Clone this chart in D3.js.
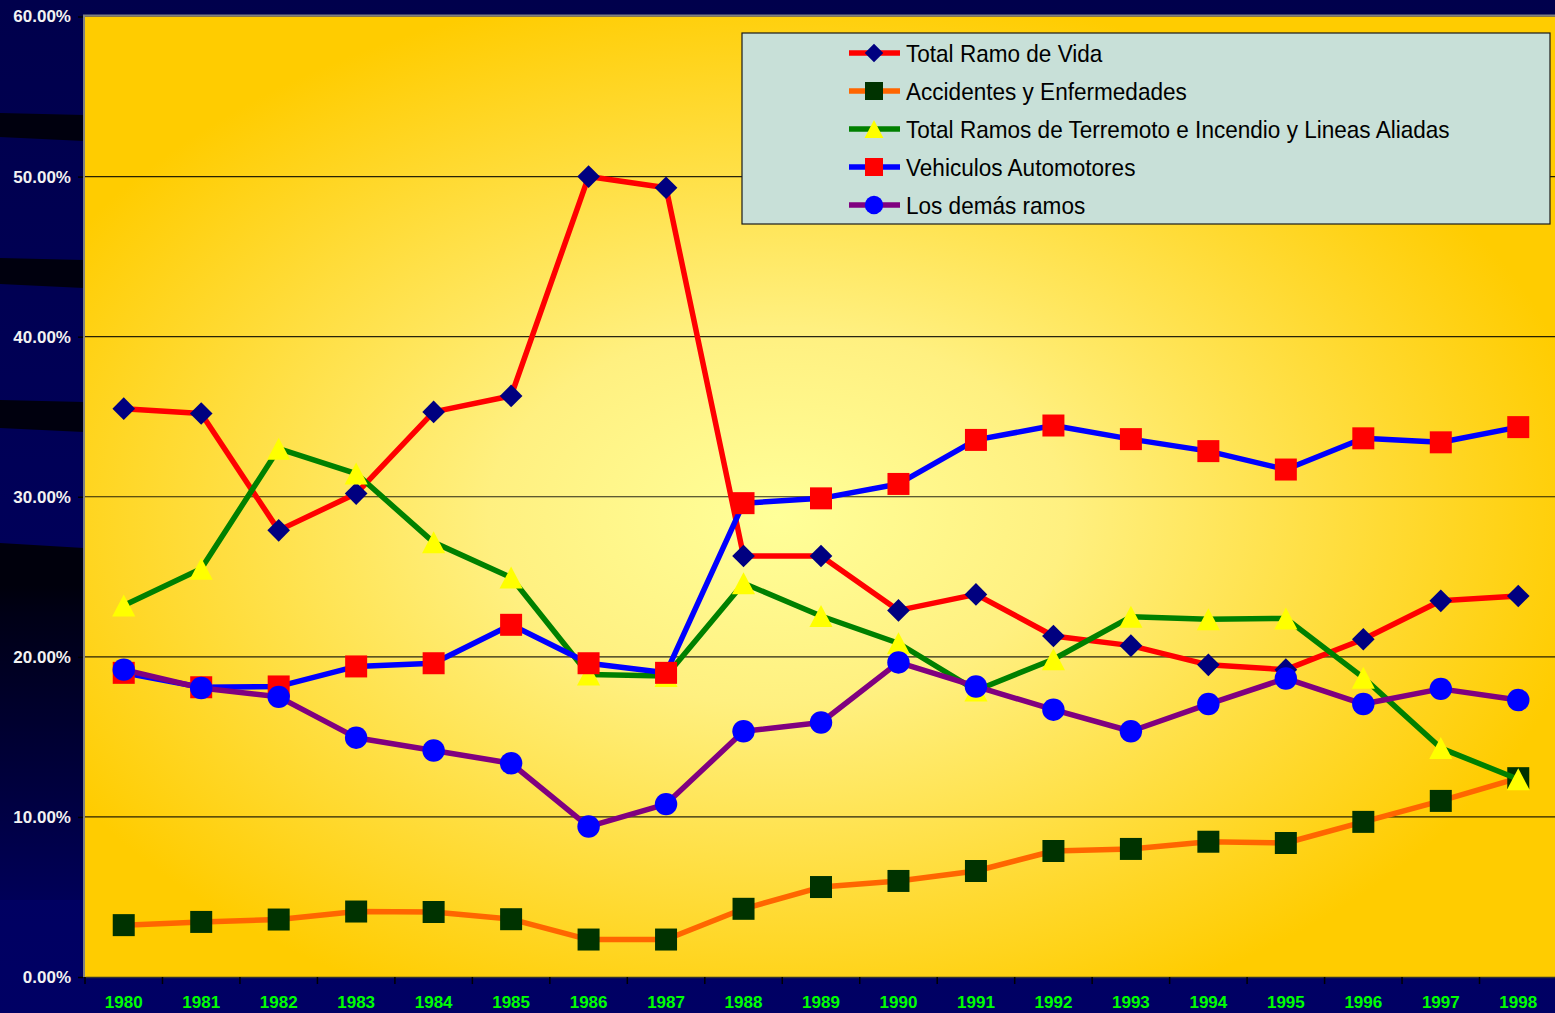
<!DOCTYPE html>
<html>
<head>
<meta charset="utf-8">
<script src="https://cdn.jsdelivr.net/npm/d3@7"></script>
<style>
  html, body { margin: 0; padding: 0; background: #000058; overflow: hidden; }
  svg { display: block; }
</style>
</head>
<body>
<svg id="chart" width="1555" height="1013"></svg>
<script>
// Participación por ramo, 1980–1998 (porcentaje de la prima total)
const years = ["1980","1981","1982","1983","1984","1985","1986","1987","1988","1989",
               "1990","1991","1992","1993","1994","1995","1996","1997","1998"];

const vida        = [35.5, 35.2, 27.9, 30.2, 35.3, 36.3, 50.0, 49.3, 26.3, 26.3,
                     22.9, 23.9, 21.3, 20.7, 19.5, 19.2, 21.1, 23.5, 23.8];
const accidentes  = [3.24, 3.44, 3.59, 4.09, 4.06, 3.61, 2.34, 2.34, 4.26, 5.62,
                     6.0, 6.62, 7.87, 8.0, 8.45, 8.37, 9.69, 11.0, 12.42];
const terremoto   = [23.2, 25.5, 33.0, 31.45, 27.15, 24.95, 18.9, 18.8, 24.6, 22.55,
                     20.85, 17.9, 19.85, 22.5, 22.35, 22.4, 18.7, 14.3, 12.35];
const vehiculos   = [19.0, 18.1, 18.15, 19.4, 19.6, 22.0, 19.6, 19.0, 29.6, 29.9,
                     30.8, 33.55, 34.45, 33.6, 32.85, 31.7, 33.65, 33.4, 34.35];
const demas       = [19.2, 18.05, 17.5, 14.95, 14.15, 13.35, 9.4, 10.8, 15.35, 15.9,
                     19.65, 18.15, 16.7, 15.35, 17.05, 18.65, 17.05, 18.0, 17.3];

const seriesNames = ["Total Ramo de Vida", "Accidentes y Enfermedades",
                     "Total Ramos de Terremoto e Incendio y Lineas Aliadas",
                     "Vehiculos Automotores", "Los demás ramos"];
const yTicks = [0, 10, 20, 30, 40, 50, 60];

const series = [
  { name: seriesNames[0], values: vida,       line: "#FF0000", fill: "#000080", shape: "diamond" },
  { name: seriesNames[1], values: accidentes, line: "#FF6600", fill: "#003300", shape: "square" },
  { name: seriesNames[2], values: terremoto,  line: "#008000", fill: "#FFFF00", shape: "triangle" },
  { name: seriesNames[3], values: vehiculos,  line: "#0000FF", fill: "#FF0000", shape: "square" },
  { name: seriesNames[4], values: demas,      line: "#800080", fill: "#0000FF", shape: "circle" }
];

const W = 1555, H = 1013;
const plot = { left: 85, right: 1557, top: 16.5, bottom: 977 };

const svg = d3.select("#chart");
const defs = svg.append("defs");

// background decoration in the left margin
const marg = defs.append("linearGradient").attr("id", "margShade")
  .attr("x1", 0).attr("y1", 0).attr("x2", 0).attr("y2", 1);
marg.append("stop").attr("offset", 0).attr("stop-color", "#00000c");
marg.append("stop").attr("offset", 0.12).attr("stop-color", "#00000c");
marg.append("stop").attr("offset", 0.2).attr("stop-color", "#000016");
marg.append("stop").attr("offset", 1).attr("stop-color", "#000058");

const bgGrad = defs.append("linearGradient").attr("id", "bgGrad")
  .attr("x1", 0).attr("y1", 0).attr("x2", 0).attr("y2", 1);
bgGrad.append("stop").attr("offset", 0).attr("stop-color", "#00004c");
bgGrad.append("stop").attr("offset", 1).attr("stop-color", "#000064");

svg.append("rect").attr("width", W).attr("height", H).attr("fill", "url(#bgGrad)");

const bands = [[113, 115, 137, 141], [258, 260, 284, 288], [400, 402, 428, 432]];
svg.append("g").selectAll("path").data(bands).join("path")
  .attr("d", b => `M0,${b[0]} L84,${b[1]} L84,${b[3]} L0,${b[2]} Z`)
  .attr("fill", "#00000e");
svg.append("path")
  .attr("d", "M0,543 L84,548 L84,900 L0,900 Z")
  .attr("fill", "url(#margShade)");

// plot area fill
const rg = defs.append("radialGradient").attr("id", "plotGrad")
  .attr("cx", 0.47).attr("cy", 0.52).attr("r", 0.56).attr("fx", 0.47).attr("fy", 0.52);
rg.append("stop").attr("offset", 0).attr("stop-color", "#FFFF99");
rg.append("stop").attr("offset", 0.35).attr("stop-color", "#FFF080");
rg.append("stop").attr("offset", 1).attr("stop-color", "#FFCC00");

svg.append("rect")
  .attr("x", plot.left).attr("y", plot.top)
  .attr("width", plot.right - plot.left).attr("height", plot.bottom - plot.top)
  .attr("fill", "url(#plotGrad)");

// scales
const x = d3.scaleBand().domain(years).range([plot.left, plot.right]).paddingInner(0).paddingOuter(0);
const cx = d => x(d) + x.bandwidth() / 2;
const y = d3.scaleLinear().domain([0, 60]).range([plot.bottom, plot.top]);

// gridlines
svg.append("g").selectAll("line").data(yTicks.filter(t => t > 0 && t < 60)).join("line")
  .attr("x1", plot.left).attr("x2", plot.right)
  .attr("y1", d => y(d)).attr("y2", d => y(d))
  .attr("stroke", "#000").attr("stroke-width", 1.2).attr("stroke-opacity", 0.85);

// plot border (top and left)
svg.append("path")
  .attr("d", `M${plot.left - 1},${plot.bottom} L${plot.left - 1},${plot.top - 1} L${plot.right},${plot.top - 1}`)
  .attr("fill", "none").attr("stroke", "#808080").attr("stroke-width", 2);

// y axis
const yAxis = svg.append("g").attr("transform", `translate(${plot.left - 2},0)`)
  .call(d3.axisLeft(y).tickValues(yTicks).tickFormat(d => d3.format(".2f")(d) + "%")
    .tickSize(5).tickPadding(7));
yAxis.select(".domain").remove();
yAxis.selectAll(".tick line").attr("stroke", "#000").attr("stroke-width", 1.5);
yAxis.selectAll(".tick text")
  .attr("fill", "#F2F2F2").attr("font-family", "Liberation Sans, Arial, sans-serif")
  .attr("font-weight", "bold").attr("font-size", "17px");

// x axis
const xAxis = svg.append("g").attr("transform", `translate(0,${plot.bottom})`)
  .call(d3.axisBottom(x).tickSize(0).tickPadding(31));
xAxis.select(".domain").attr("stroke", "#333").attr("stroke-width", 1.5);
xAxis.selectAll(".tick text")
  .attr("fill", "#00FF00").attr("font-family", "Liberation Sans, Arial, sans-serif")
  .attr("font-weight", "bold").attr("font-size", "17px")
  .attr("dy", "0em");
xAxis.append("g").selectAll("line").data(years).join("line")
  .attr("x1", d => x(d)).attr("x2", d => x(d))
  .attr("y1", 0).attr("y2", 7)
  .attr("stroke", "#000").attr("stroke-width", 1.5);

// marker shapes
function markerPath(shape, s) {
  const h = s / 2;
  switch (shape) {
    case "diamond": return `M0,${-h * 1.03} L${h * 1.03},0 L0,${h * 1.03} L${-h * 1.03},0 Z`;
    case "square": return `M${-h},${-h} L${h},${-h} L${h},${h} L${-h},${h} Z`;
    case "triangle": return `M0,${-h} L${h * 1.05},${h} L${-h * 1.05},${h} Z`;
    case "circle": return d3.arc()({ innerRadius: 0, outerRadius: h * 1.02, startAngle: 0, endAngle: 2 * Math.PI });
  }
}

const line = d3.line().x((v, i) => cx(years[i])).y(v => y(v));

const gSeries = svg.append("g");
series.forEach(s => {
  const g = gSeries.append("g");
  g.append("path").datum(s.values)
    .attr("d", line)
    .attr("fill", "none").attr("stroke", s.line)
    .attr("stroke-width", 5.5).attr("stroke-linejoin", "round");
  g.selectAll("path.mk").data(s.values).join("path").attr("class", "mk")
    .attr("transform", (v, i) => `translate(${cx(years[i])},${y(v)})`)
    .attr("d", markerPath(s.shape, 22))
    .attr("fill", s.fill);
});

// legend
const lg = svg.append("g").attr("transform", "translate(742,33)");
lg.append("rect").attr("width", 808).attr("height", 191)
  .attr("fill", "#C8E0D8").attr("stroke", "#1a1a1a").attr("stroke-width", 1.2);
const rows = lg.selectAll("g.row").data(series).join("g").attr("class", "row")
  .attr("transform", (d, i) => `translate(0,${20 + i * 38})`);
rows.append("line").attr("x1", 107).attr("x2", 158).attr("y1", 0).attr("y2", 0)
  .attr("stroke", d => d.line).attr("stroke-width", 5.5);
rows.append("path").attr("transform", "translate(132,0)")
  .attr("d", d => markerPath(d.shape, 18)).attr("fill", d => d.fill);
rows.append("text")
  .attr("transform", "translate(164,9) scale(0.94,1)")
  .attr("font-family", "Liberation Sans, Arial, sans-serif").attr("font-size", "24px")
  .attr("fill", "#000")
  .text(d => d.name);
</script>
</body>
</html>
